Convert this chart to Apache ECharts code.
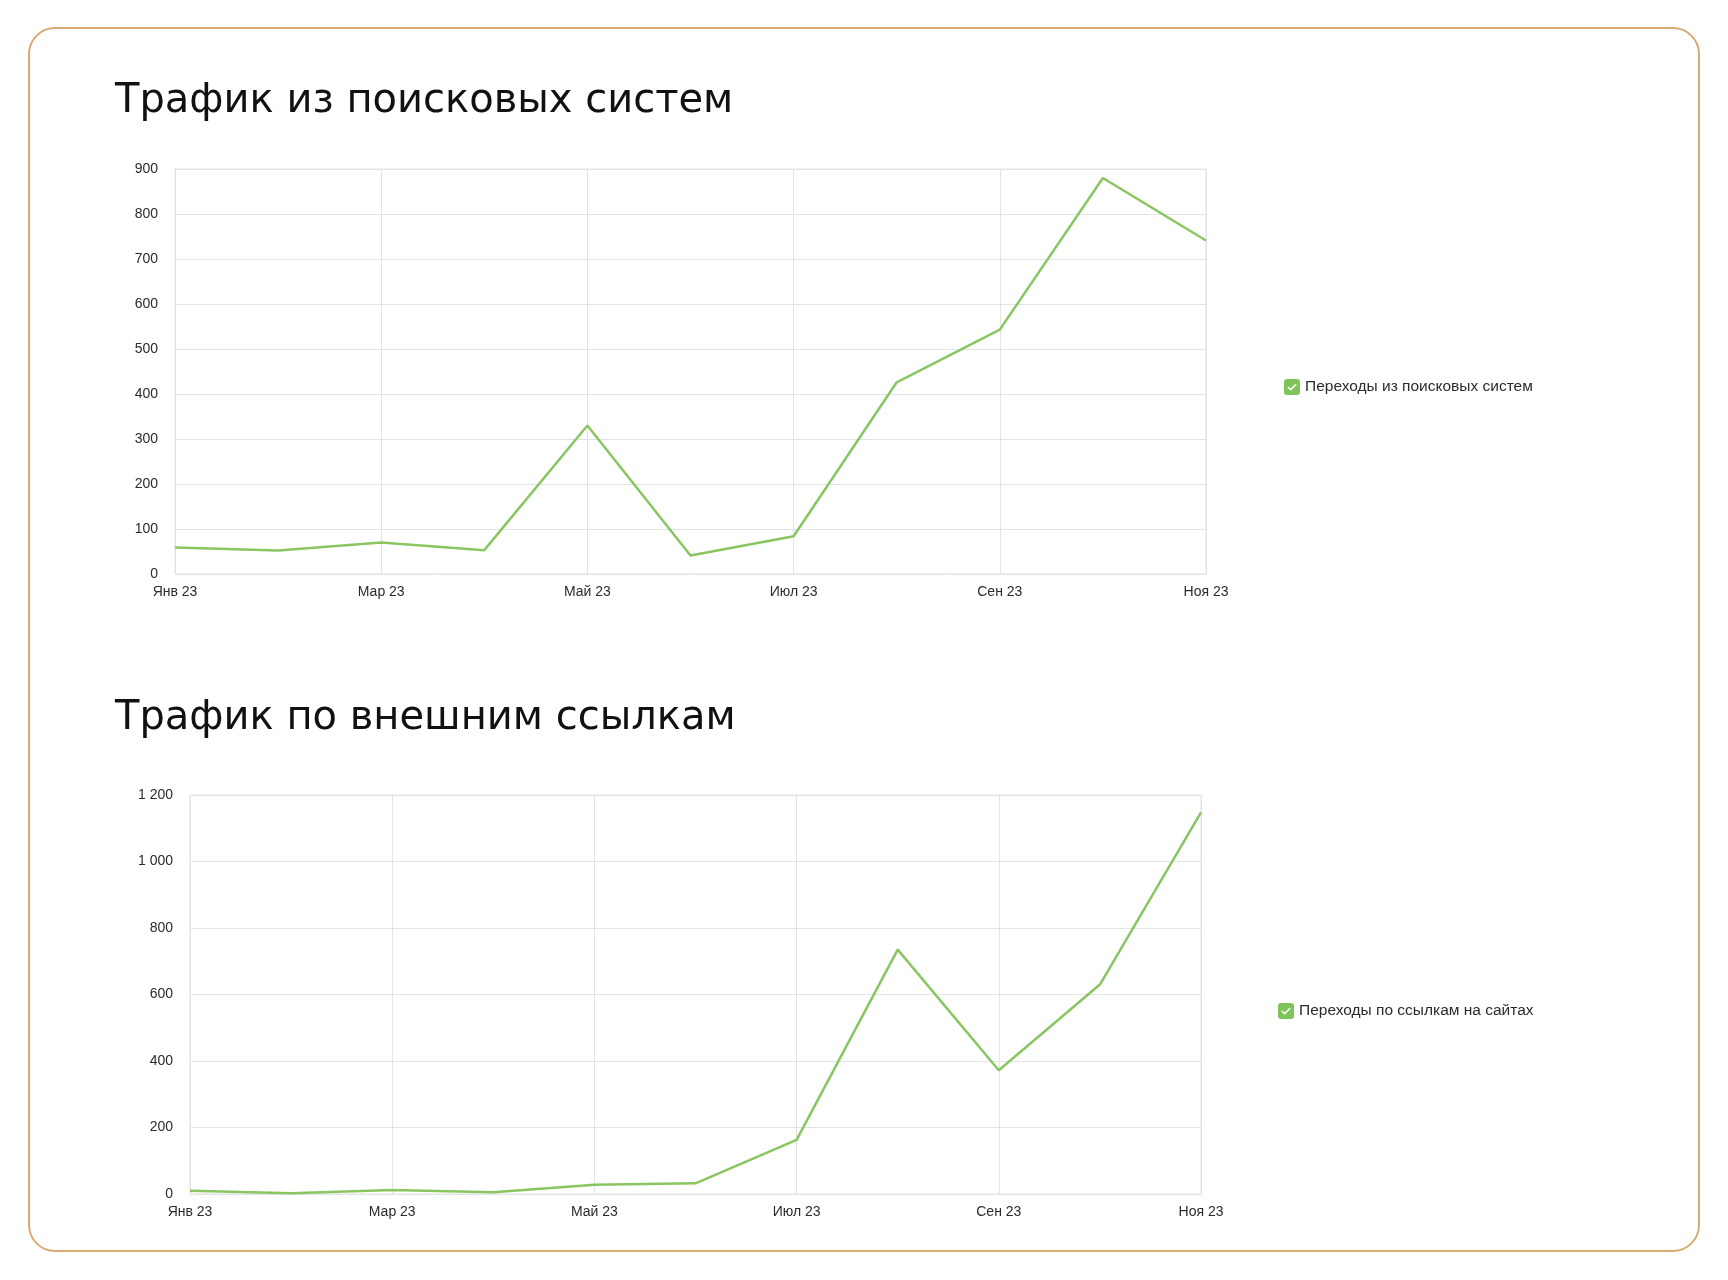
<!DOCTYPE html>
<html>
<head>
<meta charset="utf-8">
<script src="https://cdn.jsdelivr.net/npm/echarts@6/dist/echarts.min.js"></script>
<style>
  html, body { margin: 0; padding: 0; background: #fff; }
  #frame {
    position: absolute; left: 28px; top: 27px;
    width: 1672px; height: 1225px; box-sizing: border-box;
    border: 2.5px solid #d9aa72; border-radius: 27px;
  }
  #container { position: absolute; left: 0; top: 0; width: 1728px; height: 1280px; }
</style>
</head>
<body>
<div id="frame"></div>
<div id="container"></div>
<script>
// месяцы (ось X)
const months = ['Янв 23', 'Фев 23', 'Мар 23', 'Апр 23', 'Май 23', 'Июн 23',
  'Июл 23', 'Авг 23', 'Сен 23', 'Окт 23', 'Ноя 23'];

// переходы из поисковых систем
const searchName = 'Переходы из поисковых систем';
const searchData = [59, 52, 70, 53, 330, 41, 84, 426, 543, 880, 741];

// переходы по ссылкам на сайтах
const linksName = 'Переходы по ссылкам на сайтах';
const linksData = [10, 2, 12, 5, 28, 32, 163, 735, 372, 630, 1148];

const lineColor = '#89c662';
const gridColor = '#e3e3e3';

// иконка-чекбокс для легенды
const checkSvg = "<svg xmlns='http://www.w3.org/2000/svg' width='32' height='32'>" +
  "<rect x='0' y='0' width='32' height='32' rx='6' fill='#7fc45a'/>" +
  "<path d='M8.5 16.5l5 5L23.5 11' stroke='#fff' stroke-width='3.2' fill='none' stroke-linecap='round' stroke-linejoin='round'/></svg>";
const checkIcon = 'image://data:image/svg+xml;charset=utf-8,' + encodeURIComponent(checkSvg);

// разделитель тысяч пробелом
function fmt(v) {
  return String(v).replace(/\B(?=(\d{3})+(?!\d))/g, ' ');
}

const dom = document.getElementById('container');
const myChart = echarts.init(dom, null, { renderer: 'canvas' });

function xAxisCfg(gridIndex) {
  return {
    type: 'category',
    gridIndex: gridIndex,
    data: months,
    boundaryGap: false,
    axisLine: { show: false },
    axisTick: { show: false },
    axisLabel: {
      interval: 1,
      margin: 11,
      color: '#2b2b2b',
      fontSize: 14,
      fontFamily: '"Liberation Sans", Arial, sans-serif'
    },
    splitLine: { show: true, interval: 1, lineStyle: { color: gridColor, width: 1 } }
  };
}

function yAxisCfg(gridIndex, max, interval) {
  return {
    type: 'value',
    gridIndex: gridIndex,
    min: 0,
    max: max,
    interval: interval,
    axisLine: { show: false },
    axisTick: { show: false },
    axisLabel: {
      margin: 17,
      color: '#2b2b2b',
      fontSize: 14,
      fontFamily: '"Liberation Sans", Arial, sans-serif',
      formatter: fmt
    },
    splitLine: { show: true, lineStyle: { color: gridColor, width: 1 } }
  };
}

const titleStyle = {
  fontFamily: '"DejaVu Sans", Inter, sans-serif',
  fontSize: 40,
  fontWeight: 'normal',
  color: '#111'
};

const legendText = {
  color: '#2b2b2b',
  fontSize: 15.5,
  fontFamily: '"Liberation Sans", Arial, sans-serif'
};

const option = {
  animation: false,
  title: [
    { text: 'Трафик из поисковых систем', left: 115, top: 82, padding: 0, textStyle: titleStyle },
    { text: 'Трафик по внешним ссылкам', left: 115, top: 699, padding: 0, textStyle: titleStyle }
  ],
  legend: [
    {
      data: [searchName], left: 1284, top: 379, padding: 0,
      icon: checkIcon, itemWidth: 16, itemHeight: 16, itemGap: 8,
      textStyle: legendText
    },
    {
      data: [linksName], left: 1278, top: 1003, padding: 0,
      icon: checkIcon, itemWidth: 16, itemHeight: 16, itemGap: 8,
      textStyle: legendText
    }
  ],
  grid: [
    { left: 175, top: 169, width: 1031, height: 405, show: true, borderColor: gridColor, borderWidth: 1, backgroundColor: 'transparent' },
    { left: 190, top: 795, width: 1011, height: 399, show: true, borderColor: gridColor, borderWidth: 1, backgroundColor: 'transparent' }
  ],
  xAxis: [xAxisCfg(0), xAxisCfg(1)],
  yAxis: [yAxisCfg(0, 900, 100), yAxisCfg(1, 1200, 200)],
  series: [
    {
      name: searchName, type: 'line', xAxisIndex: 0, yAxisIndex: 0,
      data: searchData, showSymbol: false, symbol: 'none',
      lineStyle: { color: lineColor, width: 2.5 }, itemStyle: { color: lineColor }
    },
    {
      name: linksName, type: 'line', xAxisIndex: 1, yAxisIndex: 1,
      data: linksData, showSymbol: false, symbol: 'none',
      lineStyle: { color: lineColor, width: 2.5 }, itemStyle: { color: lineColor }
    }
  ]
};

myChart.setOption(option, true);
</script>
</body>
</html>
